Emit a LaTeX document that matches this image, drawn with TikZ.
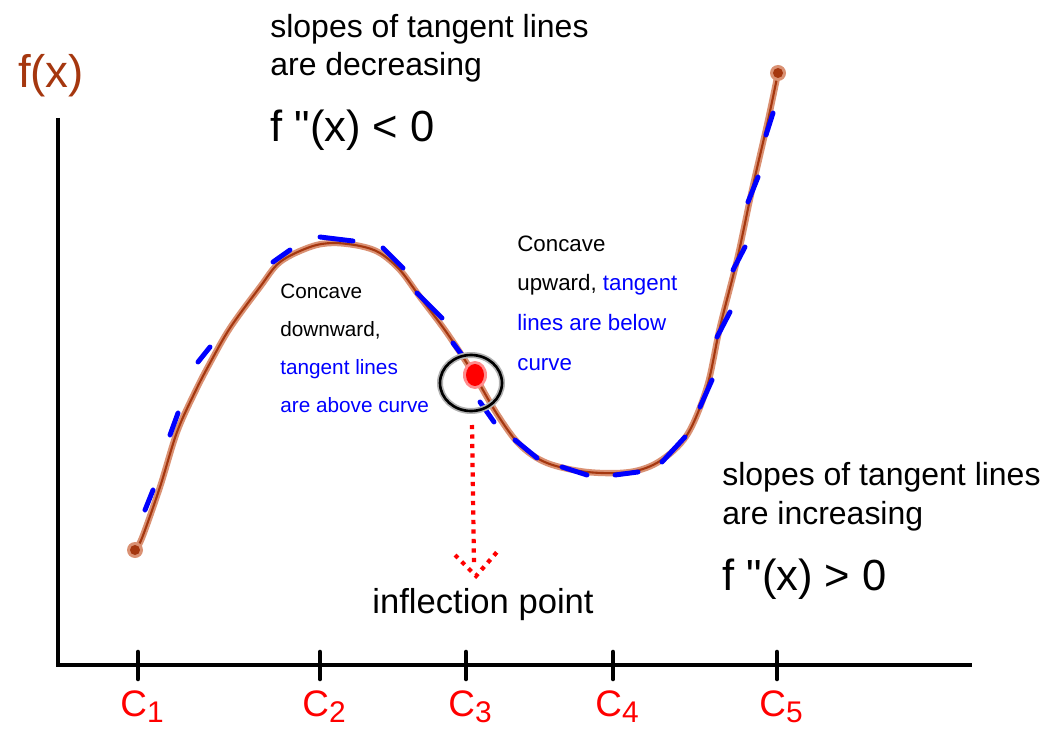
\documentclass[tikz,border=0pt]{standalone}
\usepackage{fontspec}
\newfontfamily\arialfont{Liberation Sans}
\usetikzlibrary{positioning}

\definecolor{curvecore}{RGB}{165,55,15}
\definecolor{curvehalo}{RGB}{218,145,115}
\definecolor{tanblue}{RGB}{0,0,255}

\newcommand\slopefont{\arialfont\fontsize{18.2}{22.1}\selectfont}
\newcommand\formfont{\arialfont\fontsize{24.8}{26}\selectfont}
\newcommand\downfont{\arialfont\fontsize{11.8}{21.5}\selectfont}
\newcommand\upfont{\arialfont\fontsize{12.7}{22.5}\selectfont}
\newcommand\inflfont{\arialfont\fontsize{19.7}{22}\selectfont}
\newcommand\cfont{\arialfont\fontsize{21}{22}\selectfont}
\newcommand\csub[1]{\raisebox{-3.5pt}{\arialfont\fontsize{17}{17}\selectfont #1}}

\begin{document}
\begin{tikzpicture}[
            x=0.02cm, y=-0.02cm,
            axis/.style={line width=2.3pt, black},
            tickmark/.style={line width=2.6pt, black, line cap=round},
            halo/.style={line width=3.6pt, curvehalo, line cap=round, line join=round},
            fcurve/.style={line width=1.2pt, curvecore, line cap=round, line join=round},
            tangent/.style={line width=2.8pt, tanblue, line cap=round},
            note/.style={anchor=base west, align=left, inner sep=0pt},
            pointer/.style={red, line width=2.4pt, dash pattern=on 2.4pt off 3pt},
        ]
        \useasboundingbox (0,0) rectangle (1047,729);

        % axes
        \coordinate (origin) at (58,665);
        \coordinate (ytop) at (58,118);
        \coordinate (xend) at (972,665);
        \draw[axis] (ytop) -- (origin) -- (xend);
        \node[curvecore, font=\arialfont\fontsize{26}{26}\selectfont, inner sep=0pt] (fx) at (51,76) {f(x)};

        % ticks and their labels
        \foreach \name / \x in {1/138, 2/320, 3/466, 4/613, 5/777} {
            \draw[tickmark] (\x,652) -- (\x,679);
            \node[red, font=\cfont, anchor=base, inner sep=0pt] (C-\name) at (\x+4,716) {C\csub{\name}};
        }

        % the curve
        \draw[halo] plot[smooth, tension=0.55] coordinates {(135,550) (142,538) (160,487) (177,432) (195,392)
            (210,363) (230,328) (260,287) (280,262) (310,247) (333,243) (360,246) (380,253) (400,270)
            (420,297) (447,333) (473,373) (497,414) (520,445) (547,463) (587,472) (630,472) (660,461)
            (687,435) (707,387) (720,327) (737,260) (752,190) (767,125) (778,73)};
        \draw[fcurve] plot[smooth, tension=0.55] coordinates {(135,550) (142,538) (160,487) (177,432) (195,392)
            (210,363) (230,328) (260,287) (280,262) (310,247) (333,243) (360,246) (380,253) (400,270)
            (420,297) (447,333) (473,373) (497,414) (520,445) (547,463) (587,472) (630,472) (660,461)
            (687,435) (707,387) (720,327) (737,260) (752,190) (767,125) (778,73)};
        \fill[curvehalo] (135,550) circle (8);
        \fill[curvecore] (135,550) circle (5);
        \fill[curvehalo] (778,73) circle (8);
        \fill[curvecore] (778,73) circle (5);

        % tangent line pieces
        \foreach \a / \b in {145/510, 170/435, 198/362, 273/262, 320/237, 383/248, 417/293, 453/343,
                             480/402, 515/440, 562/467, 615/475, 662/462, 700/407, 717/337, 733/270,
                             748/202, 766/135}
        \coordinate (T-\a) at (\a,\b);
        \draw[tangent] (T-145) -- ++(8,-20);
        \draw[tangent] (T-170) -- ++(8,-22);
        \draw[tangent] (T-198) -- ++(12,-15);
        \draw[tangent] (T-273) -- ++(17,-12);
        \draw[tangent] (T-320) -- ++(33,4);
        \draw[tangent] (T-383) -- ++(20,20);
        \draw[tangent] (T-417) -- ++(25,25);
        \draw[tangent] (T-453) -- ++(9,12);
        \draw[tangent] (T-480) -- ++(14,20);
        \draw[tangent] (T-515) -- ++(22,18);
        \draw[tangent] (T-562) -- ++(25,8);
        \draw[tangent] (T-615) -- ++(23,-3);
        \draw[tangent] (T-662) -- ++(23,-25);
        \draw[tangent] (T-700) -- ++(12,-27);
        \draw[tangent] (T-717) -- ++(13,-25);
        \draw[tangent] (T-733) -- ++(12,-23);
        \draw[tangent] (T-748) -- ++(10,-25);
        \draw[tangent] (T-766) -- ++(7,-22);

        % inflection point
        \coordinate (ring) at (471,383);
        \draw[gray!60, line width=3.4pt] (ring) ellipse [x radius=31, y radius=28];
        \draw[black, line width=1.5pt] (ring) ellipse [x radius=31, y radius=28];
        \fill[red!45] (475,375) ellipse [x radius=12, y radius=14];
        \fill[red] (475,375) ellipse [x radius=9, y radius=11];
        \coordinate (drop) at (472,425);
        \coordinate (tip) at (476,576);
        \draw[pointer] (drop) -- (474,566);
        \draw[pointer] (455,555) -- (tip) -- (497,552);

        % texts
        \node[note, font=\slopefont] (decr) at (270,76) {slopes of tangent lines\\are decreasing};
        \node[note, font=\formfont] (neg) at (270,142) {f "(x) < 0};
        \node[note, font=\downfont] (down) at (280,412) {Concave\\downward,\\\textcolor{tanblue}{tangent lines}\\\textcolor{tanblue}{are above curve}};
        \node[note, font=\upfont] (up) at (517,370) {Concave\\upward, \textcolor{tanblue}{tangent}\\\textcolor{tanblue}{lines are below}\\\textcolor{tanblue}{curve}};
        \node[note, font=\slopefont] (incr) at (722,524) {slopes of tangent lines\\are increasing};
        \node[note, font=\formfont] (pos) at (722,590) {f "(x) > 0};
        \node[note, font=\inflfont] (infl) at (372,613) {inflection point};
    \end{tikzpicture}
\end{document}
